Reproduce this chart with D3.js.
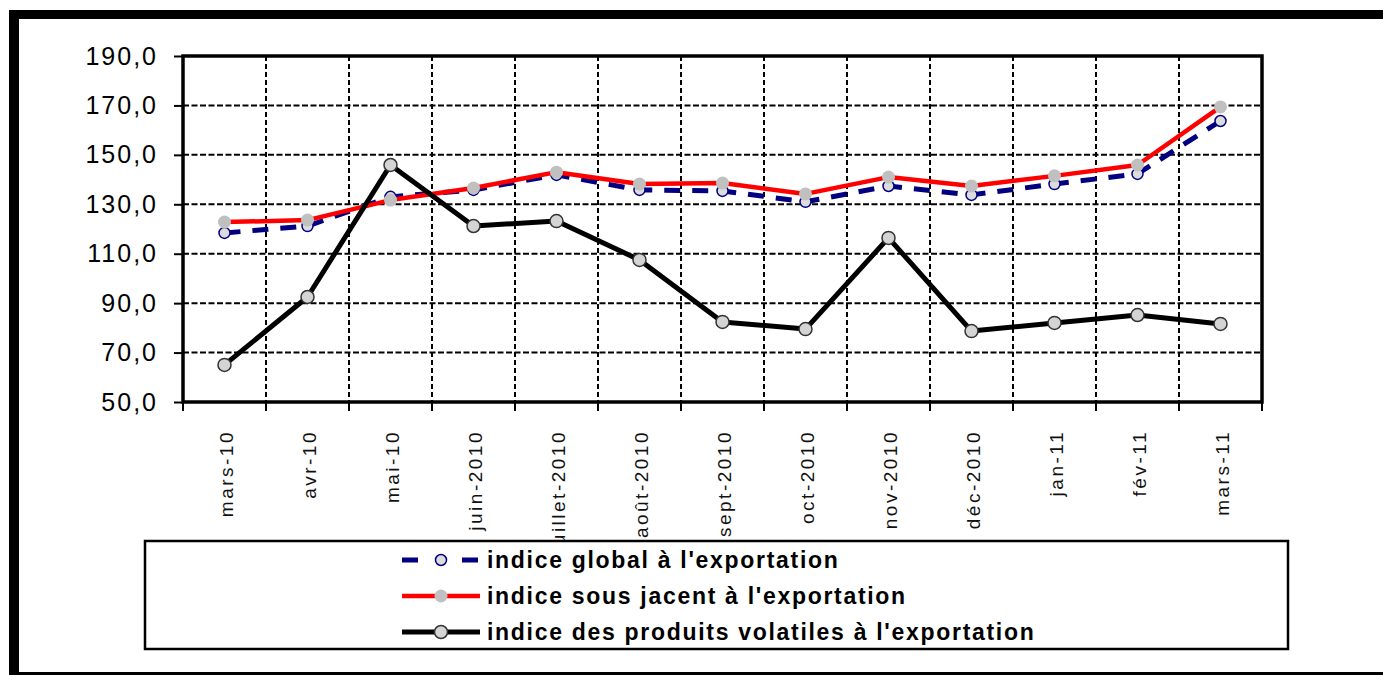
<!DOCTYPE html>
<html>
<head>
<meta charset="utf-8">
<script src="https://cdn.jsdelivr.net/npm/d3@7"></script>
<style>
  html, body { margin: 0; padding: 0; background: #fff; }
  svg { display: block; font-family: "Liberation Sans", Arial, sans-serif; }
</style>
</head>
<body>
<svg id="chart" width="1383" height="675"></svg>
<script>
// months on the x axis
const months = ["mars-10", "avr-10", "mai-10", "juin-2010", "juillet-2010", "août-2010",
  "sept-2010", "oct-2010", "nov-2010", "déc-2010", "jan-11", "fév-11", "mars-11"];

// indice global à l'exportation
const globalIdx = [118.4, 121.2, 133.0, 135.8, 141.9, 135.8, 135.4, 131.0, 137.4, 133.8, 138.2, 142.3, 163.7];
// indice sous jacent à l'exportation
const sousJacent = [122.8, 123.6, 131.7, 136.6, 143.0, 138.2, 138.6, 134.2, 141.0, 137.4, 141.5, 145.9, 169.4];
// indice des produits volatiles à l'exportation
const volatiles = [65.0, 92.5, 145.9, 121.2, 123.2, 107.5, 82.4, 79.5, 116.4, 78.7, 82.0, 85.2, 81.6];

const yTicks = [50, 70, 90, 110, 130, 150, 170, 190];

const series = [
  { name: "indice global à l'exportation", values: globalIdx,
    stroke: "#000080", width: 5, dash: "16,12",
    marker: { r: 5.5, fill: "#dcdcdc", stroke: "#000080", sw: 1.5 } },
  { name: "indice sous jacent à l'exportation", values: sousJacent,
    stroke: "#ff0000", width: 4.5, dash: null,
    marker: { r: 6.5, fill: "#c0c0c0", stroke: "none", sw: 0 } },
  { name: "indice des produits volatiles à l'exportation", values: volatiles,
    stroke: "#000000", width: 5, dash: null,
    marker: { r: 6.5, fill: "#d4d4d4", stroke: "#333", sw: 1.5 } }
];

const svg = d3.select("#chart");
const plot = { left: 183, right: 1262, top: 56, bottom: 402 };

const x = d3.scaleBand().domain(months).range([plot.left, plot.right]);
const y = d3.scaleLinear().domain([50, 190]).range([plot.bottom, plot.top]);

const fr = d3.formatLocale({ decimal: ",", thousands: " ", grouping: [3], currency: ["", " €"] });
const fmt = fr.format(".1f");

// outer frame (top bar, left bar, bottom line)
svg.append("rect").attr("x", 9).attr("y", 10).attr("width", 1374).attr("height", 9).attr("fill", "#000");
svg.append("rect").attr("x", 9).attr("y", 10).attr("width", 10).attr("height", 665).attr("fill", "#000");
svg.append("rect").attr("x", 9).attr("y", 672).attr("width", 1374).attr("height", 3).attr("fill", "#000");

// grid
const grid = svg.append("g");
grid.selectAll("line.h")
  .data(yTicks.filter(d => d > 50 && d < 190))
  .join("line")
  .attr("x1", plot.left).attr("x2", plot.right)
  .attr("y1", d => y(d)).attr("y2", d => y(d))
  .attr("stroke", "#000").attr("stroke-width", 2).attr("stroke-dasharray", "6,2.5");

grid.selectAll("line.v")
  .data(months.slice(1))
  .join("line")
  .attr("x1", d => x(d)).attr("x2", d => x(d))
  .attr("y1", plot.top).attr("y2", plot.bottom)
  .attr("stroke", "#000").attr("stroke-width", 2).attr("stroke-dasharray", "5,3");

// plot frame
svg.append("rect")
  .attr("x", plot.left).attr("y", plot.top)
  .attr("width", plot.right - plot.left).attr("height", plot.bottom - plot.top)
  .attr("fill", "none").attr("stroke", "#000").attr("stroke-width", 3.5);

// y axis
const yAxis = svg.append("g")
  .attr("transform", `translate(${plot.left},0)`)
  .call(d3.axisLeft(y).tickValues(yTicks).tickFormat(fmt).tickSize(9).tickPadding(16));
yAxis.select(".domain").remove();
yAxis.selectAll(".tick line").attr("stroke", "#000").attr("stroke-width", 2);
yAxis.selectAll(".tick text")
  .attr("font-size", 25).attr("fill", "#000")
  .attr("font-family", "Liberation Sans, Arial, sans-serif")
  .style("letter-spacing", "2px");

// x axis ticks at band boundaries
svg.append("g").selectAll("line")
  .data(months.map(m => x(m)).concat([plot.right]))
  .join("line")
  .attr("x1", d => d).attr("x2", d => d)
  .attr("y1", plot.bottom).attr("y2", plot.bottom + 9)
  .attr("stroke", "#000").attr("stroke-width", 2);

// x labels, rotated
svg.append("g").selectAll("text")
  .data(months)
  .join("text")
  .attr("transform", d => `translate(${x(d) + x.bandwidth() / 2 + 8},430) rotate(-90)`)
  .attr("text-anchor", "end")
  .attr("font-size", 19)
  .attr("fill", "#111")
  .style("letter-spacing", "2.5px")
  .text(d => d);

// series
const line = d3.line()
  .x((d, i) => x(months[i]) + x.bandwidth() / 2)
  .y(d => y(d));

series.forEach(s => {
  const g = svg.append("g");
  g.append("path")
    .datum(s.values)
    .attr("d", line)
    .attr("fill", "none")
    .attr("stroke", s.stroke)
    .attr("stroke-width", s.width)
    .attr("stroke-dasharray", s.dash)
    .attr("stroke-linejoin", "round");
  g.selectAll("circle")
    .data(s.values)
    .join("circle")
    .attr("cx", (d, i) => x(months[i]) + x.bandwidth() / 2)
    .attr("cy", d => y(d))
    .attr("r", s.marker.r)
    .attr("fill", s.marker.fill)
    .attr("stroke", s.marker.stroke)
    .attr("stroke-width", s.marker.sw);
});

// legend
const legend = svg.append("g");
legend.append("rect")
  .attr("x", 145).attr("y", 541).attr("width", 1143).attr("height", 108)
  .attr("fill", "#fff").attr("stroke", "#000").attr("stroke-width", 2.5);

const rowY = d3.scalePoint().domain(series.map(s => s.name)).range([560, 632]);

series.forEach(s => {
  const yy = rowY(s.name);
  if (s.dash) {
    legend.append("line").attr("x1", 402).attr("x2", 418).attr("y1", yy).attr("y2", yy)
      .attr("stroke", s.stroke).attr("stroke-width", s.width);
    legend.append("line").attr("x1", 462).attr("x2", 478).attr("y1", yy).attr("y2", yy)
      .attr("stroke", s.stroke).attr("stroke-width", s.width);
  } else {
    legend.append("line").attr("x1", 402).attr("x2", 480).attr("y1", yy).attr("y2", yy)
      .attr("stroke", s.stroke).attr("stroke-width", s.width);
  }
  legend.append("circle").attr("cx", 441).attr("cy", yy).attr("r", s.marker.r)
    .attr("fill", s.marker.fill).attr("stroke", s.marker.stroke).attr("stroke-width", s.marker.sw);
  legend.append("text")
    .attr("x", 487).attr("y", yy).attr("dy", "0.35em")
    .attr("font-size", 23).attr("font-weight", "bold")
    .style("letter-spacing", "1.7px")
    .text(s.name);
});
</script>
</body>
</html>
